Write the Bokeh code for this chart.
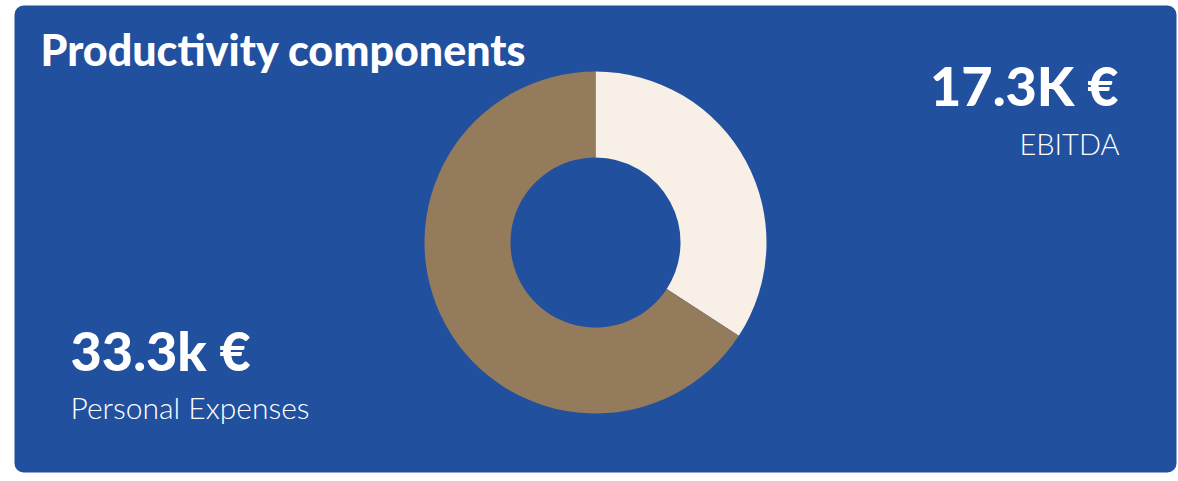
from math import pi
from bokeh.plotting import figure
from bokeh.models import Range1d, BoxAnnotation, ColumnDataSource
from bokeh.core.properties import value
from bokeh.embed import file_html
from bokeh.resources import INLINE

# ---- data ----
categories = ["EBITDA", "Personal Expenses"]
values = [17.3, 33.3]
value_labels = ["17.3K €", "33.3k €"]
colors = ["#F8EFE7", "#937B5C"]
title_text = "Productivity components"

W, H = 1178, 481
BLUE = "#21509E"
HEAVY = "Lato Black"
LIGHT = "Lato Light"

total = sum(values)
starts, ends = [], []
a = pi / 2
for v in values:
    starts.append(a)
    a = a - v / total * 2 * pi
    ends.append(a)

src = ColumnDataSource(dict(cat=categories, val=values, start=starts, end=ends, color=colors))

p = figure(width=W, height=H, output_backend="svg", toolbar_location=None,
           x_range=Range1d(0, W), y_range=Range1d(0, H), min_border=0,
           background_fill_color="white", border_fill_color="white")
p.axis.visible = False
p.grid.visible = False
p.outline_line_color = None

box = BoxAnnotation(left=14, right=1176, bottom=9, top=476, fill_color=BLUE, fill_alpha=1,
                    line_color=None, border_radius=9, level="underlay")
p.add_layout(box)

cx, cy = 595, 239
p.annular_wedge(x=cx, y=cy, inner_radius=85, outer_radius=171, start_angle="start", end_angle="end",
                direction="clock", fill_color="color", line_color=None, source=src)

p.text(x=[40], y=[432], text=[title_text], text_font=value(HEAVY), text_font_style="normal",
       text_font_size="43px", text_color="white", text_baseline="alphabetic")

# EBITDA label (right)
p.text(x=[1118], y=[396], text=[value_labels[0]], text_font=value(HEAVY), text_font_style="normal",
       text_font_size="54px", text_color="white", text_align="right", text_baseline="alphabetic")
p.text(x=[1119], y=[338], text=[categories[0]], text_font=value(LIGHT), text_font_style="normal",
       text_font_size="29px", text_color="white", text_align="right", text_baseline="alphabetic")

# Personal Expenses label (left)
p.text(x=[70], y=[131], text=[value_labels[1]], text_font=value(HEAVY), text_font_style="normal",
       text_font_size="54px", text_color="white", text_align="left", text_baseline="alphabetic")
p.text(x=[70], y=[75], text=[categories[1]], text_font=value(LIGHT), text_font_style="normal",
       text_font_size="30px", text_color="white", text_align="left", text_baseline="alphabetic")

open("out.html", "w").write(file_html(p, INLINE))
